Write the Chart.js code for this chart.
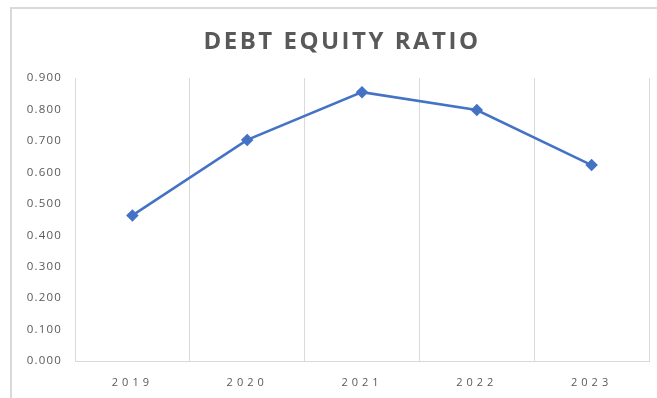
<!DOCTYPE html>
<html>
<head>
<meta charset="utf-8">
<script src="https://cdn.jsdelivr.net/npm/chart.js@4.4.1/dist/chart.umd.min.js"></script>
<style>
html, body { margin: 0; padding: 0; background: #fff; }
#wrap { width: 657px; height: 398px; }
</style>
</head>
<body>
<div id="wrap"><canvas id="ratioChart" width="657" height="398"></canvas></div>
<script>
// debt equity ratio by year
var years = ["2019", "2020", "2021", "2022", "2023"]
var ratio = [0.463, 0.703, 0.855, 0.798, 0.623]
var yMin = 0, yMax = 0.9, yStep = 0.1
var titleText = "DEBT EQUITY RATIO"

var blue = "#4472C4"
var grey = "#595959"
var gridGrey = "#d9d9d9"

// letter spacing for tick labels, applied around the scale's own drawLabels
function spaceLabels(scale, spacing) {
    if (scale._spaced) return
    var orig = scale.drawLabels
    scale.drawLabels = function (area) {
        var ctx = this.ctx
        ctx.save()
        ctx.letterSpacing = spacing
        orig.call(this, area)
        ctx.restore()
    }
    scale._spaced = true
}

var framePlugin = {
    id: 'frame',
    beforeDraw: function (chart) {
        var ctx = chart.ctx
        ctx.save()
        ctx.fillStyle = "#fff"
        ctx.fillRect(0, 0, chart.width, chart.height)
        ctx.strokeStyle = gridGrey
        ctx.lineWidth = 2
        ctx.beginPath()
        ctx.moveTo(11, chart.height)
        ctx.lineTo(11, 8)
        ctx.lineTo(chart.width, 8)
        ctx.stroke()
        ctx.restore()
    },
    afterUpdate: function (chart) {
        spaceLabels(chart.scales.x, "4px")
        spaceLabels(chart.scales.y, "1.2px")
    },
    afterDraw: function (chart) {
        var ctx = chart.ctx
        ctx.save()
        ctx.font = "bold 24px 'Open Sans'"
        ctx.letterSpacing = "2.5px"
        ctx.fillStyle = grey
        ctx.textAlign = "center"
        ctx.textBaseline = "middle"
        ctx.fillText(titleText, 342, 42)
        ctx.restore()
    }
}

var ctx = document.getElementById("ratioChart").getContext('2d')
var ratioChart = new Chart(ctx, {
    type: 'line',
    data: {
        labels: years,
        datasets: [{
            data: ratio,
            borderColor: blue,
            backgroundColor: blue,
            borderWidth: 2.5,
            pointStyle: 'rectRot',
            pointRadius: 4.5,
            tension: 0
        }]
    },
    options: {
        responsive: false,
        animation: false,
        layout: { padding: { top: 78, left: 11, right: 8, bottom: 0 } },
        plugins: {
            legend: { display: false },
            tooltip: { enabled: false }
        },
        scales: {
            x: {
                offset: true,
                grid: { offset: true, color: gridGrey, lineWidth: 1, drawTicks: false },
                border: { color: gridGrey, width: 1 },
                ticks: { color: grey, padding: 15, font: { family: "'Open Sans'", size: 11 } },
                afterFit: function (s) { s.height = 37 }
            },
            y: {
                min: yMin,
                max: yMax,
                grid: { display: false, drawTicks: false },
                border: { display: false },
                ticks: {
                    stepSize: yStep,
                    color: grey,
                    padding: 13,
                    font: { family: "'Open Sans'", size: 11.5 },
                    callback: function (v) { return v.toFixed(3) }
                },
                afterFit: function (s) { s.width = 64 }
            }
        }
    },
    plugins: [framePlugin]
})
</script>
</body>
</html>
